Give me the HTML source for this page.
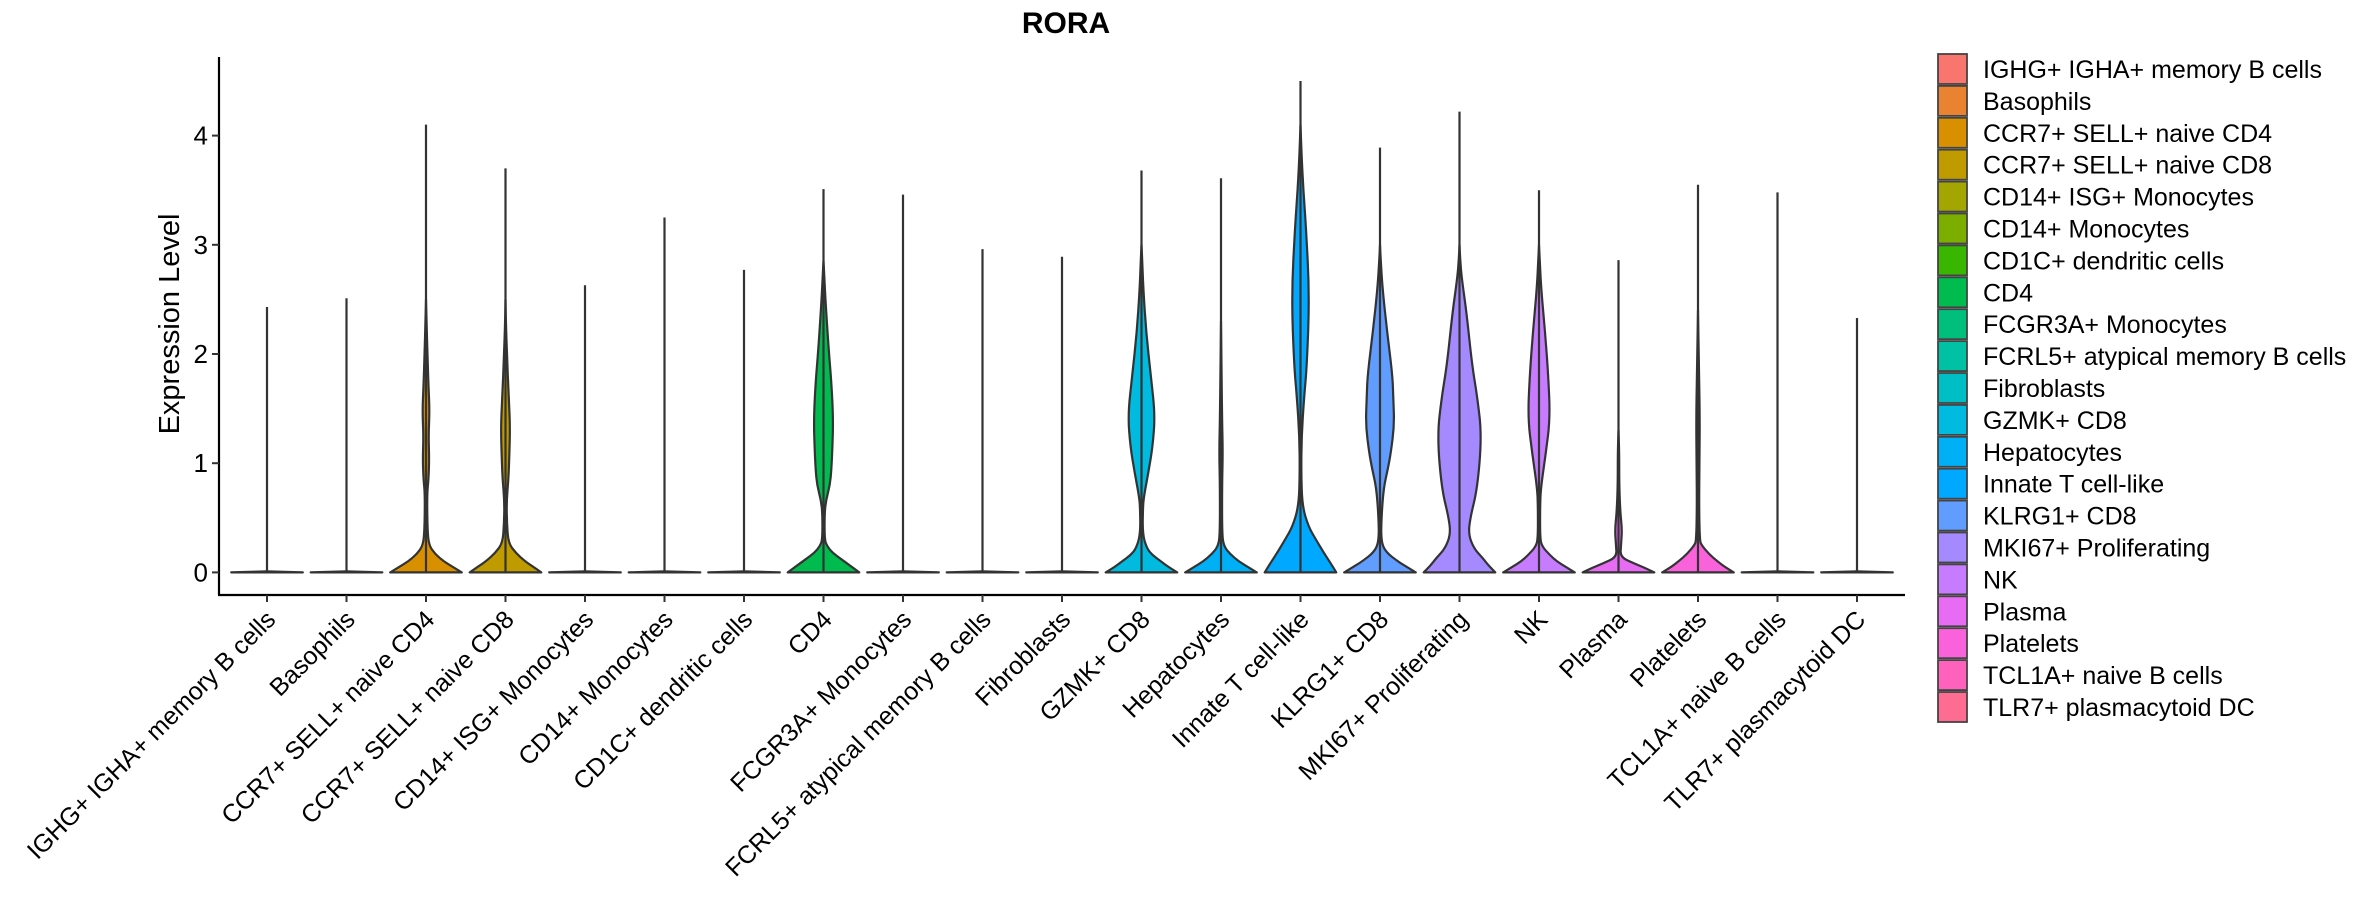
<!DOCTYPE html>
<html><head><meta charset="utf-8"><style>
html,body{margin:0;padding:0;background:#fff;}
svg{display:block;font-family:"Liberation Sans",sans-serif;}
</style></head><body>
<svg id="chart" width="2362" height="900" viewBox="0 0 2362 900">
<text x="1066" y="33" text-anchor="middle" font-size="30" font-weight="bold" fill="#000">RORA</text>
<text transform="translate(179,324) rotate(-90)" text-anchor="middle" font-size="29" fill="#000">Expression Level</text>
<g id="plot"></g>
<g id="legend"></g>
</svg>
<script>
const categories = ["IGHG+ IGHA+ memory B cells","Basophils","CCR7+ SELL+ naive CD4","CCR7+ SELL+ naive CD8","CD14+ ISG+ Monocytes","CD14+ Monocytes","CD1C+ dendritic cells","CD4","FCGR3A+ Monocytes","FCRL5+ atypical memory B cells","Fibroblasts","GZMK+ CD8","Hepatocytes","Innate T cell-like","KLRG1+ CD8","MKI67+ Proliferating","NK","Plasma","Platelets","TCL1A+ naive B cells","TLR7+ plasmacytoid DC"];
const legendLabels = [" IGHG+ IGHA+ memory B cells","Basophils","CCR7+ SELL+ naive CD4","CCR7+ SELL+ naive CD8","CD14+ ISG+ Monocytes","CD14+ Monocytes","CD1C+ dendritic cells","CD4","FCGR3A+ Monocytes","FCRL5+ atypical memory B cells","Fibroblasts","GZMK+ CD8","Hepatocytes","Innate T cell-like","KLRG1+ CD8","MKI67+ Proliferating","NK","Plasma","Platelets","TCL1A+ naive B cells","TLR7+ plasmacytoid DC"];
const colors = ["#F8766D","#EA8331","#D89000","#C09B00","#A3A500","#7CAE00","#39B600","#00BB4E","#00BF7D","#00C1A3","#00BFC4","#00BAE0","#00B0F6","#00A9FF","#619CFF","#A58AFF","#C77CFF","#E76BF3","#FA62DB","#FF62BC","#FF6C91"];
const maxValues = [2.43,2.51,4.1,3.7,2.63,3.25,2.77,3.51,3.46,2.96,2.89,3.68,3.61,4.5,3.89,4.22,3.5,2.86,3.55,3.48,2.33];
const flat = [[0,1],[0.01,0]];
const profiles = [
 flat, flat,
 [[0,1],[0.05,0.75],[0.1,0.5],[0.17,0.25],[0.25,0.08],[0.4,0.04],[0.72,0.03],[0.85,0.07],[1.04,0.09],[1.25,0.07],[1.48,0.1],[1.7,0.07],[2.0,0.04],[2.3,0.015],[2.5,0]],
 [[0,1],[0.05,0.78],[0.1,0.55],[0.18,0.28],[0.27,0.08],[0.45,0.04],[0.65,0.03],[0.85,0.08],[1.0,0.1],[1.33,0.13],[1.6,0.09],[2.0,0.04],[2.3,0.01],[2.5,0]],
 flat, flat, flat,
 [[0,1],[0.06,0.75],[0.12,0.5],[0.18,0.25],[0.24,0.1],[0.3,0.03],[0.54,0.03],[0.66,0.07],[0.8,0.18],[0.94,0.22],[1.15,0.25],[1.39,0.27],[1.7,0.23],[2.06,0.14],[2.52,0.05],[2.73,0.02],[2.85,0]],
 flat, flat, flat,
 [[0,1],[0.05,0.75],[0.1,0.55],[0.16,0.3],[0.22,0.15],[0.35,0.03],[0.6,0.04],[0.7,0.07],[0.93,0.2],[1.15,0.31],[1.44,0.38],[1.8,0.26],[2.2,0.13],[2.6,0.05],[2.86,0.02],[3.0,0]],
 [[0,1],[0.05,0.75],[0.1,0.5],[0.17,0.25],[0.24,0.08],[0.35,0.03],[0.8,0.03],[1.1,0.05],[1.4,0.03],[2.0,0.01],[2.3,0]],
 [[0,1],[0.08,0.85],[0.18,0.65],[0.29,0.45],[0.42,0.22],[0.61,0.05],[0.9,0.02],[1.25,0.03],[1.6,0.1],[1.9,0.18],[2.54,0.25],[3.18,0.15],[3.5,0.08],[3.82,0.03],[4.1,0]],
 [[0,1],[0.05,0.75],[0.1,0.5],[0.19,0.15],[0.29,0.03],[0.5,0.04],[0.77,0.1],[0.95,0.22],[1.09,0.3],[1.35,0.4],[1.6,0.37],[1.8,0.35],[2.2,0.2],[2.6,0.07],[2.86,0.02],[3.0,0]],
 [[0,1],[0.06,0.82],[0.13,0.65],[0.22,0.4],[0.35,0.25],[0.5,0.3],[0.77,0.5],[1.25,0.62],[1.6,0.5],[1.9,0.35],[2.37,0.2],[2.7,0.06],[2.86,0.02],[3.0,0]],
 [[0,1],[0.05,0.75],[0.1,0.5],[0.16,0.3],[0.24,0.08],[0.32,0.03],[0.6,0.03],[0.77,0.05],[1.09,0.19],[1.41,0.31],[1.8,0.26],[2.2,0.17],[2.6,0.06],[2.86,0.02],[3.0,0]],
 [[0,1],[0.04,0.75],[0.08,0.45],[0.14,0.05],[0.25,0.07],[0.39,0.1],[0.55,0.05],[0.8,0.02],[1.09,0.02],[1.3,0]],
 [[0,1],[0.05,0.75],[0.1,0.55],[0.17,0.3],[0.25,0.1],[0.29,0.05],[0.6,0.03],[1.0,0.04],[1.41,0.05],[1.8,0.03],[2.2,0.01],[2.4,0]],
 flat, flat
];
const yTicks = [0,1,2,3,4];

const NS = "http://www.w3.org/2000/svg";
const plot = document.getElementById("plot");
const legend = document.getElementById("legend");
const X0 = 267, STEP = 79.5, Y0 = 572.4, PX_PER_UNIT = 109.2, HALF = 35.8;
const AX_LEFT = 219, AX_BOTTOM = 595, AX_TOP = 57, AX_RIGHT = 1905;
function xScale(i){ return X0 + i*STEP; }
function yScale(v){ return Y0 - v*PX_PER_UNIT; }
function mk(tag, attrs){ const e = document.createElementNS(NS, tag); for (const k in attrs) e.setAttribute(k, attrs[k]); return e; }

const yAxis = mk("line",{x1:AX_LEFT,y1:AX_TOP,x2:AX_LEFT,y2:AX_BOTTOM,stroke:"#000","stroke-width":2.2});


plot.appendChild(yAxis);
const xAxis = mk("line",{x1:AX_LEFT-1,y1:AX_BOTTOM,x2:AX_RIGHT,y2:AX_BOTTOM,stroke:"#000","stroke-width":2.2});


plot.appendChild(xAxis);

yTicks.forEach(t => {
  const y = yScale(t);
  const tk = mk("line",{x1:AX_LEFT-7,y1:y,x2:AX_LEFT,y2:y,stroke:"#333","stroke-width":2});
  
  
  plot.appendChild(tk);
  const lb = mk("text",{x:AX_LEFT-11,y:y+9,"text-anchor":"end","font-size":26,fill:"#000"});
  lb.textContent = t;
  
  
  plot.appendChild(lb);
});

categories.forEach((c, i) => {
  const cx = xScale(i);
  const tk = mk("line",{x1:cx,y1:AX_BOTTOM,x2:cx,y2:AX_BOTTOM+7,stroke:"#333","stroke-width":2});
  
  
  plot.appendChild(tk);
  const lb = mk("text",{transform:`translate(${cx+10},${AX_BOTTOM+26}) rotate(-45)`,"text-anchor":"end","font-size":25,fill:"#000"});
  lb.textContent = c;
  
  
  plot.appendChild(lb);

  const prof = profiles[i];
  const right = prof.map(p => [cx + p[1]*HALF, yScale(p[0])]);
  const left = prof.slice().reverse().map(p => [cx - p[1]*HALF, yScale(p[0])]);
  const pts = right.concat(left);
  let d = `M${pts[0][0]},${pts[0][1]}`;
  for (let k = 1; k < pts.length - 1; k++) {
    const mx = (pts[k][0] + pts[k+1][0]) / 2, my = (pts[k][1] + pts[k+1][1]) / 2;
    d += ` Q${pts[k][0]},${pts[k][1]} ${mx},${my}`;
  }
  d += ` L${pts[pts.length-1][0]},${pts[pts.length-1][1]} Z`;
  const path = mk("path",{d:d,fill:colors[i],stroke:"#333","stroke-width":2.2,"stroke-linejoin":"round"});
  
  
  plot.appendChild(path);
  const whisk = mk("line",{x1:cx,y1:yScale(0),x2:cx,y2:yScale(maxValues[i]),stroke:"#333","stroke-width":2.2});
  
  
  plot.appendChild(whisk);

  const ry = 54 + i*31.9;
  const key = mk("rect",{x:1938,y:ry,width:29,height:30,fill:colors[i],stroke:"#444","stroke-width":1.8});
  
  
  legend.appendChild(key);
  const lt = mk("text",{x:1983,y:ry+24,"font-size":25,fill:"#000","xml:space":"preserve"});
  lt.textContent = legendLabels[i];
  
  
  legend.appendChild(lt);
});
</script>
</body></html>
